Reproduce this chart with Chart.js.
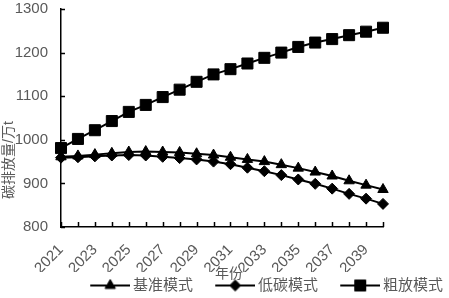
<!DOCTYPE html>
<html>
<head>
<meta charset="utf-8">
<script src="https://cdn.jsdelivr.net/npm/chart.js@4/dist/chart.umd.min.js"></script>
<style>
html,body{margin:0;padding:0;background:#fff;}
#wrap{width:449px;height:298px;position:relative;}
</style>
</head>
<body>
<div id="wrap"><canvas id="c" width="449" height="298"></canvas></div>
<script>
const years = ['2021','2022','2023','2024','2025','2026','2027','2028','2029','2030','2031','2032','2033','2034','2035','2036','2037','2038','2039','2040'];
const baseline = [961, 963, 966, 969, 972, 973, 972, 971, 968, 965, 960, 955, 950, 943, 935, 926, 917, 906, 896, 886];
const lowCarbon = [959, 960, 962, 964, 965, 964, 961, 958, 955, 950, 944, 936, 928, 919, 909, 899, 888, 876, 865, 853];
const extensive = [981, 1002, 1022, 1043, 1064, 1080, 1098, 1115, 1133, 1150, 1162, 1175, 1188, 1200, 1213, 1223, 1231, 1240, 1248, 1257];
const seriesNames = ['基准模式', '低碳模式', '粗放模式'];
const yTicks = [800, 900, 1000, 1100, 1200, 1300];
const yTitle = '碳排放量/万t';
const xTitle = '年份';

const GRAY = '#595959';
const FONT = '"Liberation Sans", "Noto Sans CJK SC", sans-serif';
Chart.defaults.font.family = FONT;
Chart.defaults.color = GRAY;

const styles = [
  {style: 'triangle', r: 6},
  {style: 'rectRot', r: 5.5},
  {style: 'rect', r: 7.8}
];

function drawMarker(ctx, style, x, y, r) {
  ctx.beginPath();
  if (style === 'triangle') {
    let rad = 0;
    ctx.moveTo(x + Math.sin(rad) * r, y - Math.cos(rad) * r);
    rad += 2 * Math.PI / 3;
    ctx.lineTo(x + Math.sin(rad) * r, y - Math.cos(rad) * r);
    rad += 2 * Math.PI / 3;
    ctx.lineTo(x + Math.sin(rad) * r, y - Math.cos(rad) * r);
  } else if (style === 'rectRot') {
    ctx.moveTo(x - r, y); ctx.lineTo(x, y - r); ctx.lineTo(x + r, y); ctx.lineTo(x, y + r);
  } else {
    const s = Math.SQRT1_2 * r;
    ctx.rect(x - s, y - s, 2 * s, 2 * s);
  }
  ctx.closePath();
  ctx.fillStyle = '#000'; ctx.strokeStyle = '#000'; ctx.lineWidth = 1;
  ctx.fill(); ctx.stroke();
}

const legendImgs = styles.map(s => {
  const c = document.createElement('canvas');
  c.width = 61; c.height = 16;
  const g = c.getContext('2d');
  g.strokeStyle = '#000'; g.lineWidth = 2;
  g.beginPath(); g.moveTo(21, 8); g.lineTo(61, 8); g.stroke();
  drawMarker(g, s.style, 41, 8, s.r);
  return c;
});

const extras = {
  id: 'extras',
  afterDraw(chart) {
    const ctx = chart.ctx;
    const x = chart.scales.x, y = chart.scales.y;
    ctx.save();
    ctx.strokeStyle = '#000'; ctx.lineWidth = 1.5;
    yTicks.forEach(v => {
      const py = Math.round(y.getPixelForValue(v)) + 0.5;
      ctx.beginPath(); ctx.moveTo(x.left, py); ctx.lineTo(x.left + 4, py); ctx.stroke();
    });
    years.forEach((lbl, i) => {
      const px = Math.round(x.getPixelForValue(i)) + 0.5;
      ctx.beginPath(); ctx.moveTo(px, y.bottom); ctx.lineTo(px, y.bottom - 5); ctx.stroke();
    });
    ctx.fillStyle = GRAY;
    ctx.font = '14px ' + FONT;
    ctx.textAlign = 'center'; ctx.textBaseline = 'middle';
    ctx.save();
    ctx.translate(9, 160); ctx.rotate(-Math.PI / 2);
    ctx.fillText(yTitle, 0, 0);
    ctx.restore();
    ctx.fillText(xTitle, 229, 274);
    ctx.restore();
  }
};

const allData = [baseline, lowCarbon, extensive];
new Chart(document.getElementById('c'), {
  type: 'line',
  data: {
    labels: years,
    datasets: allData.map((d, i) => ({
      label: seriesNames[i],
      data: d,
      borderColor: '#000',
      borderWidth: 2,
      backgroundColor: '#000',
      pointStyle: styles[i].style,
      pointRadius: styles[i].r,
      pointBackgroundColor: '#000',
      pointBorderColor: '#000',
      pointBorderWidth: 1,
      tension: 0,
      fill: false,
      yAxisID: 'y'
    }))
  },
  options: {
    responsive: false,
    animation: false,
    devicePixelRatio: 1,
    layout: {padding: {top: 9, left: 0, right: 0, bottom: 0}},
    plugins: {
      tooltip: {enabled: false},
      legend: {
        position: 'bottom',
        align: 'end',
        maxHeight: 26,
        labels: {
          usePointStyle: true,
          pointStyleWidth: 51.5,
          padding: 6,
          color: GRAY,
          font: {size: 15, family: FONT},
          generateLabels: chart => chart.data.datasets.map((ds, i) => ({
            text: ds.label, pointStyle: legendImgs[i], fillStyle: '#000', strokeStyle: '#000',
            lineWidth: 0, hidden: false, datasetIndex: i, fontColor: GRAY
          }))
        }
      }
    },
    scales: {
      x: {
        type: 'category',
        offset: false,
        grid: {display: true, drawOnChartArea: false, drawTicks: false},
        border: {display: true, color: '#000', width: 1.5},
        ticks: {
          autoSkip: false, minRotation: 45, maxRotation: 45, padding: 14,
          color: GRAY, font: {size: 15},
          callback: function(v, i) { return i % 2 === 0 ? years[i] : ''; }
        },
        afterFit: s => { s.height = 298 - 227 - 26; s.paddingLeft = 0; s.paddingRight = 0; }
      },
      y: {
        type: 'linear', position: 'left', min: 800, max: 1300,
        grid: {display: true, drawOnChartArea: false, drawTicks: false},
        border: {display: true, color: '#000', width: 1.5},
        ticks: {stepSize: 100, padding: 13, color: GRAY, font: {size: 15},
          callback: v => String(v)},
        afterFit: s => { s.width = 61; s.paddingTop = 0; s.paddingBottom = 0; }
      },
      yR: {
        type: 'linear', position: 'right', display: true,
        grid: {display: false}, border: {display: false},
        ticks: {display: false},
        afterFit: s => { s.width = 66; s.paddingTop = 0; s.paddingBottom = 0; }
      }
    }
  },
  plugins: [extras]
});
</script>
</body>
</html>
